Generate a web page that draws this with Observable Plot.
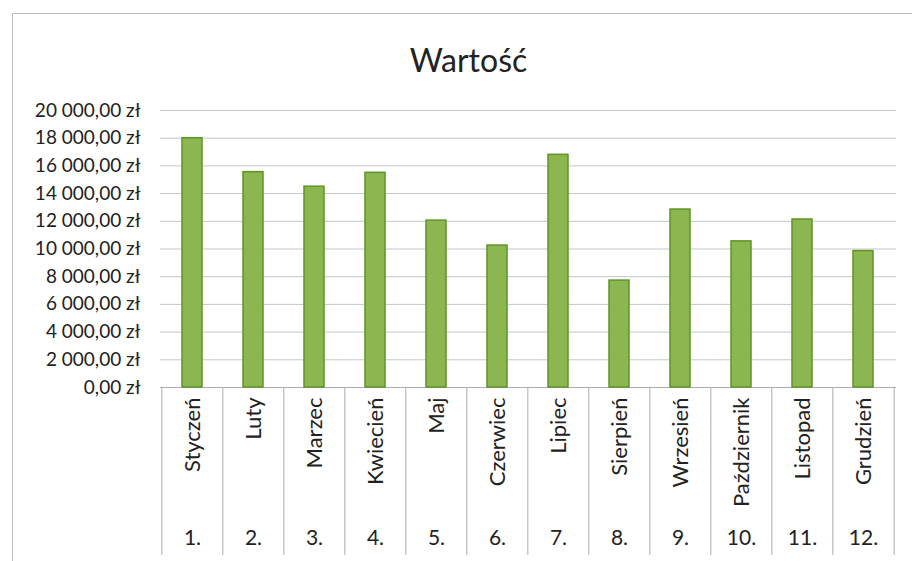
<!DOCTYPE html>
<html>
<head>
<meta charset="utf-8">
<script src="https://cdn.jsdelivr.net/npm/d3@7"></script>
<script src="https://cdn.jsdelivr.net/npm/@observablehq/plot@0.6"></script>
<style>
  html, body { margin: 0; padding: 0; background: #fff; }
  #wrap { position: relative; width: 912px; height: 561px; overflow: hidden; }
  #border { position: absolute; left: 12px; top: 13px; width: 960px; height: 600px;
            border: 1px solid #b9bcc6; box-sizing: border-box; pointer-events: none; }
</style>
</head>
<body>
<div id="wrap"><div id="border"></div></div>
<script>
const titleText = "Wartość";
const months = ["Styczeń", "Luty", "Marzec", "Kwiecień", "Maj", "Czerwiec",
                "Lipiec", "Sierpień", "Wrzesień", "Październik", "Listopad", "Grudzień"];
const numLabels = ["1.", "2.", "3.", "4.", "5.", "6.", "7.", "8.", "9.", "10.", "11.", "12."];
const values = [18000, 15550, 14500, 15500, 12050, 10250, 16800, 7720, 12850, 10550, 12130, 9850];
const yTicks = [0, 2000, 4000, 6000, 8000, 10000, 12000, 14000, 16000, 18000, 20000];

const data = months.map((m, i) => ({month: m, value: values[i]}));

const W = 912, H = 561, mL = 160, mR = 16, mT = 110, mB = 174;
const step = (W - mL - mR) / months.length;
const plotH = H - mT - mB;
const sepLen = 168;

const pl = d3.formatLocale({decimal: ",", thousands: "\u00a0", grouping: [3], currency: ["", "\u00a0zł"]});
const fmt = pl.format("$,.2f");

const font = "Lato, 'Noto Sans', sans-serif";
const ink = "#222";

const chart = Plot.plot({
  width: W, height: H,
  marginLeft: mL, marginRight: mR, marginTop: mT, marginBottom: mB,
  style: {fontFamily: font, color: ink, background: "transparent"},
  x: {domain: months, paddingInner: 0.67, paddingOuter: 0.335, axis: null},
  y: {domain: [0, 20000], axis: null},
  marks: [
    Plot.gridY(yTicks, {stroke: "#c3c6d0", strokeOpacity: 1, strokeWidth: 1}),
    Plot.ruleY([0], {stroke: "#a9acb5", strokeWidth: 1}),
    Plot.barY(data, {x: "month", y: "value", fill: "#8cb64f", stroke: "#5f9426", strokeWidth: 1.5}),
    Plot.axisY({ticks: yTicks, tickSize: 0, tickPadding: 20, tickFormat: fmt, fontSize: 19, fill: ink, label: null}),
    Plot.axisX({tickSize: 0, tickPadding: 10, tickRotate: -90, fontSize: 22, fill: ink, label: null}),
    Plot.axisX({tickSize: 0, tickPadding: 143, fontSize: 21, fill: ink, label: null,
                tickFormat: d => numLabels[months.indexOf(d)]}),
    Plot.ruleX(months, {dx: -step / 2, insetTop: plotH, insetBottom: -sepLen,
                        stroke: "#a9acb5", strokeWidth: 1}),
    Plot.ruleX([months[months.length - 1]], {dx: step / 2, insetTop: plotH, insetBottom: -sepLen,
                        stroke: "#a9acb5", strokeWidth: 1}),
    Plot.text([titleText], {frameAnchor: "top", dx: -60, dy: -49, fontSize: 32, fill: ink, lineAnchor: "middle"})
  ]
});
document.getElementById("wrap").prepend(chart);
</script>
</body>
</html>
